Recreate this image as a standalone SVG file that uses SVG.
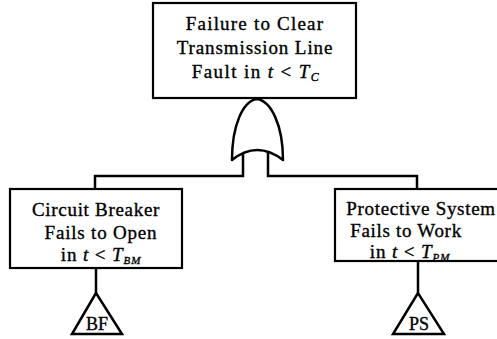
<svg xmlns="http://www.w3.org/2000/svg" width="497" height="339" viewBox="0 0 497 339">
  <style>
    .box { fill: #fff; stroke: #000; stroke-width: 2.2; }
    .wire { fill: none; stroke: #000; stroke-width: 2.5; }
    .gate { fill: #fff; stroke: #000; stroke-width: 2.5; stroke-linejoin: round; }
    .tri { fill: #fff; stroke: #000; stroke-width: 2.5; stroke-linejoin: miter; }
    .lbl { fill: #000; stroke: #000; stroke-width: 0.35; text-anchor: middle; }
  </style>
  <rect width="497" height="339" fill="#fff"/>

  <!-- connectors -->
  <g id="connectors">
    <polyline class="wire" points="243,150 243,176 95,176 95,189"/>
    <polyline class="wire" points="268,150 268,176 417,176 417,189"/>
    <line class="wire" x1="96" y1="268" x2="96" y2="293"/>
    <line class="wire" x1="418" y1="261" x2="418" y2="293"/>
  </g>

  <!-- top event -->
  <g id="top-event">
    <rect class="box" x="153" y="3" width="203" height="95"/>
    <text class="lbl" font-family="Liberation Serif" font-size="19" letter-spacing="1.2" x="255" y="30">Failure to Clear</text>
    <text class="lbl" font-family="Liberation Serif" font-size="19" letter-spacing="0.9" x="255" y="54">Transmission Line</text>
    <text class="lbl" font-family="Liberation Serif" font-size="19" letter-spacing="1.4" x="256" y="78">Fault in <tspan font-style="italic">t</tspan> &lt; <tspan font-style="italic">T</tspan><tspan font-style="italic" font-size="12" dy="3">C</tspan></text>
  </g>

  <!-- OR gate -->
  <g id="or-gate">
    <path class="gate" d="M257,99 C243,101 232,125 232,160 Q257,140 283,160 C283,125 271,101 257,99 Z"/>
  </g>

  <!-- left event -->
  <g id="breaker">
    <rect class="box" x="10" y="189" width="172" height="79"/>
    <text class="lbl" font-family="Liberation Serif" font-size="19" letter-spacing="0.7" x="96" y="216">Circuit Breaker</text>
    <text class="lbl" font-family="Liberation Serif" font-size="19" letter-spacing="0.8" x="101" y="239">Fails to Open</text>
    <text class="lbl" font-family="Liberation Serif" font-size="19" letter-spacing="0.9" x="101" y="261">in <tspan font-style="italic">t</tspan> &lt; <tspan font-style="italic">T</tspan><tspan font-style="italic" font-size="11" dy="3">BM</tspan></text>
  </g>

  <!-- right event -->
  <g id="protective">
    <rect class="box" x="335" y="189" width="175" height="72"/>
    <text class="lbl" font-family="Liberation Serif" font-size="19" letter-spacing="0.7" x="421" y="215">Protective System</text>
    <text class="lbl" font-family="Liberation Serif" font-size="19" letter-spacing="0.7" x="406" y="237">Fails to Work</text>
    <text class="lbl" font-family="Liberation Serif" font-size="19" letter-spacing="0.9" x="410" y="258">in  <tspan font-style="italic">t</tspan> &lt; <tspan font-style="italic">T</tspan><tspan font-style="italic" font-size="11" dy="3">PM</tspan></text>
  </g>

  <!-- transfer symbols -->
  <g id="bf">
    <polygon class="tri" points="96,293 72,334 122,334"/>
    <text class="lbl" font-family="Liberation Serif" font-size="18" x="97" y="330">BF</text>
  </g>
  <g id="ps">
    <polygon class="tri" points="418,293 393,334 444,334"/>
    <text class="lbl" font-family="Liberation Serif" font-size="18" x="419" y="330">PS</text>
  </g>
</svg>
